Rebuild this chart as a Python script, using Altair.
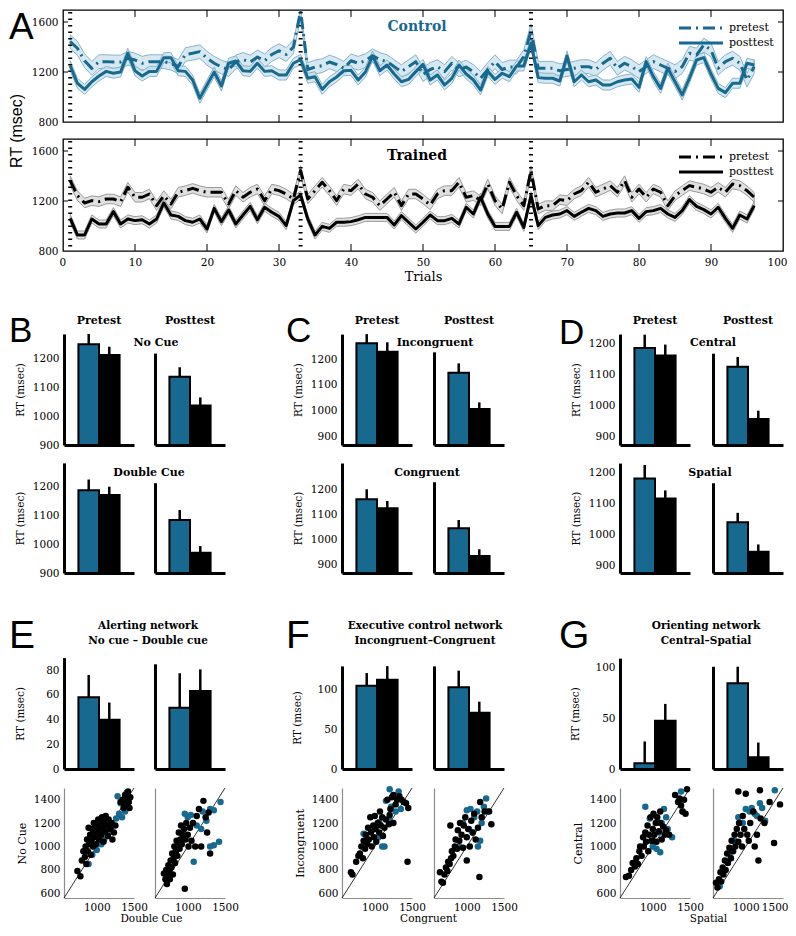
import altair as alt
import pandas as pd

SERIF = "DejaVu Serif"
SANS = "Liberation Sans"
BLUE = "#17698f"

# ---------------- Panel A data ----------------
trials = list(range(1, 97))
control_pretest = [1443, 1390, 1290, 1229, 1283, 1283, 1280, 1280, 1310, 1296,
                   1270, 1283, 1283, 1283, 1270, 1243, 1340, 1350, 1363, 1310,
                   1270, 1240, 1220, 1280, 1300, 1280, 1320, 1290, 1340, 1370,
                   1340, 1400, 1690, 1220, 1240, 1250, 1280, 1260, 1230, 1290,
                   1270, 1290, 1330, 1300, 1283, 1243, 1203, 1243, 1283, 1180,
                   1220, 1243, 1203, 1270, 1216, 1240, 1203, 1150, 1220, 1283,
                   1220, 1240, 1240, 1323, 1530, 1230, 1230, 1230, 1210, 1220,
                   1230, 1243, 1243, 1220, 1270, 1310, 1230, 1270, 1243, 1203,
                   1243, 1283, 1256, 1230, 1203, 1243, 1350, 1336, 1416, 1376,
                   1230, 1283, 1310, 1270, 1136, 1243]
control_posttest = [1250, 1110, 1061, 1122, 1168, 1205, 1190, 1200, 1350, 1210,
                    1168, 1205, 1205, 1315, 1315, 1210, 1205, 1136, 990, 1096,
                    1200, 1088, 1270, 1288, 1210, 1205, 1270, 1205, 1210, 1176,
                    1176, 1270, 1300, 1150, 1162, 1061, 1122, 1160, 1210, 1213,
                    1136, 1200, 1328, 1210, 1256, 1184, 1122, 1141, 1203, 1261,
                    1136, 1176, 1096, 1149, 1256, 1184, 1136, 1056, 1205, 1141,
                    1190, 1163, 1248, 1248, 1429, 1155, 1150, 1150, 1128, 1328,
                    1122, 1176, 1122, 1136, 1096, 1096, 1122, 1136, 1144, 1077,
                    1283, 1163, 1069, 1230, 1122, 1016, 1150, 1296, 1315, 1184,
                    1069, 1035, 1110, 1110, 1270, 1256]
trained_pretest = [1363, 1243, 1184, 1203, 1195, 1216, 1216, 1195, 1310, 1230,
                   1230, 1256, 1163, 1243, 1176, 1270, 1283, 1301, 1283, 1270,
                   1270, 1270, 1176, 1283, 1230, 1270, 1296, 1203, 1296, 1283,
                   1256, 1216, 1443, 1216, 1283, 1350, 1283, 1203, 1296, 1283,
                   1336, 1256, 1230, 1163, 1216, 1270, 1163, 1256, 1256, 1216,
                   1168, 1256, 1283, 1283, 1350, 1230, 1243, 1203, 1336, 1203,
                   1136, 1350, 1243, 1163, 1443, 1136, 1163, 1163, 1211, 1203,
                   1256, 1283, 1350, 1270, 1296, 1323, 1270, 1363, 1230, 1296,
                   1230, 1296, 1270, 1163, 1243, 1283, 1323, 1310, 1296, 1270,
                   1310, 1270, 1336, 1323, 1283, 1230]
trained_posttest = [1061, 928, 928, 1056, 1016, 1016, 1115, 1016, 1056, 1043,
                    1050, 1016, 1056, 1184, 1088, 1077, 1043, 1030, 1056, 976,
                    1141, 1035, 1128, 1016, 1088, 1157, 1050, 1150, 1110, 1077,
                    1003, 1203, 1248, 1056, 928, 997, 981, 1030, 1030, 1035,
                    1050, 1069, 1069, 1069, 1069, 1008, 1083, 1030, 976, 1030,
                    1088, 1043, 1043, 1061, 1016, 1150, 1096, 1230, 1096, 997,
                    997, 997, 1110, 989, 1243, 1003, 1069, 1088, 1096, 1123,
                    1077, 1110, 1141, 1123, 1077, 1096, 1104, 1104, 1123, 1061,
                    1115, 1123, 1141, 1096, 1069, 1123, 1211, 1157, 1131, 1096,
                    1150, 1061, 981, 1088, 1056, 1163]
control_pretest_sem = 55
control_posttest_sem = 40
trained_pretest_sem = 38
trained_posttest_sem = 32
block_start_trials = [1, 33, 65]
trial_ticks = [0, 10, 20, 30, 40, 50, 60, 70, 80, 90, 100]
rt_ticks = [800, 1200, 1600]

# ---------------- Panels B-G bar data (Control, Trained) ----------------
groups = ["Control", "Trained"]
nocue_pre, nocue_pre_err = [1247, 1210], [36, 29]
nocue_post, nocue_post_err = [1135, 1036], [33, 28]
double_pre, double_pre_err = [1189, 1172], [37, 29]
double_post, double_post_err = [1085, 971], [35, 23]
incong_pre, incong_pre_err = [1261, 1228], [36, 37]
incong_post, incong_post_err = [1146, 1005], [37, 26]
cong_pre, cong_pre_err = [1159, 1123], [40, 29]
cong_post, cong_post_err = [1043, 932], [33, 27]
central_pre, central_pre_err = [1185, 1161], [43, 35]
central_post, central_post_err = [1124, 955], [32, 27]
spatial_pre, spatial_pre_err = [1182, 1117], [44, 26]
spatial_post, spatial_post_err = [1039, 943], [31, 24]
alert_pre, alert_pre_err = [58, 39.7], [18, 14]
alert_post, alert_post_err = [49.4, 63], [28, 17.5]
exec_pre, exec_pre_err = [105, 112.7], [16, 17]
exec_post, exec_post_err = [103, 70.9], [21, 14]
orient_pre, orient_pre_err = [5.6, 47.5], [21.5, 16.5]
orient_post, orient_post_err = [84.3, 11.5], [16.3, 14.5]

# ---------------- Scatter data (x, y) ----------------
e_pre_control = [(890, 850), (940, 930), (1000, 970), (1060, 1020), (1100, 1060), (1150, 1120),
                 (1200, 1170), (1260, 1240), (1300, 1280), (1340, 1250), (1280, 1430), (1320, 1370),
                 (1400, 1460), (1380, 1300), (960, 1100)]
e_pre_trained = [(740, 790), (780, 745), (800, 880), (820, 960), (840, 910), (850, 1000), (860, 850),
                 (870, 1060), (880, 960), (890, 1160), (900, 1020), (910, 1100), (920, 930), (930, 1050),
                 (940, 1150), (950, 1000), (960, 1200), (970, 1080), (980, 1130), (990, 1020), (1000, 1180),
                 (1010, 1100), (1020, 1230), (1030, 1060), (1040, 1150), (1050, 1200), (1060, 1100),
                 (1070, 1250), (1080, 1170), (1090, 1040), (1100, 1210), (1110, 1130), (1120, 1260),
                 (1140, 1180), (1150, 1090), (1160, 1230), (1180, 1150), (1200, 1200), (1210, 1060),
                 (1230, 1120), (1250, 1180), (1320, 1380), (1350, 1400), (1360, 1330), (1380, 1440),
                 (1390, 1360), (1400, 1410), (1420, 1470), (1430, 1380), (1440, 1330), (1450, 1420),
                 (1370, 1360), (1410, 1350)]
e_post_control = [(880, 1000), (960, 1280), (1000, 1250), (1040, 1270), (1080, 870), (1120, 1180),
                  (1180, 1150), (1250, 1220), (1300, 1320), (1350, 1310), (1350, 1010), (1420, 1040),
                  (1440, 1380), (1300, 1000), (1200, 1300)]
e_post_trained = [(680, 770), (700, 720), (710, 800), (720, 680), (730, 750), (740, 840), (750, 790),
                  (760, 720), (770, 880), (780, 820), (790, 940), (800, 760), (810, 900), (820, 1000),
                  (830, 860), (840, 960), (850, 1050), (860, 920), (870, 1000), (880, 1120), (890, 980),
                  (900, 1060), (910, 1180), (920, 1020), (930, 1100), (950, 1150), (960, 640), (970, 1060),
                  (980, 1200), (1000, 1100), (1010, 1000), (1030, 1160), (1050, 1050), (1070, 1200),
                  (1100, 1000), (1120, 1260), (1150, 1320), (1180, 1000), (1210, 1390), (1240, 1250),
                  (1280, 1290), (1300, 940), (1260, 1120)]
f_pre_control = [(850, 1110), (900, 1060), (960, 1140), (1000, 1150), (1050, 1080), (1100, 1000),
                 (1130, 1000), (1150, 1390), (1200, 1490), (1220, 1340), (1280, 1300), (1320, 1470),
                 (1350, 1320), (1200, 1230), (1060, 1210)]
f_pre_trained = [(680, 780), (700, 760), (750, 870), (780, 920), (800, 940), (820, 1000), (840, 900),
                 (850, 1050), (870, 980), (880, 1100), (900, 1020), (910, 1160), (920, 1060), (940, 1250),
                 (950, 1120), (960, 1000), (980, 1180), (990, 1080), (1000, 1260), (1010, 1150),
                 (1020, 1040), (1040, 1200), (1060, 1120), (1070, 1300), (1080, 1180), (1100, 1250),
                 (1110, 1090), (1130, 1160), (1150, 1230), (1170, 1400), (1190, 1190), (1210, 1320),
                 (1230, 1420), (1250, 1200), (1280, 1360), (1300, 1400), (1330, 1430), (1360, 1400),
                 (1390, 1380), (1420, 1370), (1450, 1330), (1440, 870), (1200, 1270), (1250, 1440)]
f_post_control = [(900, 1000), (950, 1200), (1000, 1310), (1050, 1320), (1080, 1120), (1100, 1250),
                  (1140, 1300), (1180, 1050), (1200, 1200), (1230, 1340), (1260, 1410), (1280, 1300),
                  (1030, 1150), (1150, 1000)]
f_post_trained = [(640, 780), (660, 700), (680, 690), (700, 760), (720, 820), (740, 790), (750, 870),
                  (770, 850), (790, 900), (800, 960), (820, 920), (840, 1000), (850, 1060), (870, 980),
                  (880, 1140), (900, 1050), (910, 1200), (930, 1100), (950, 990), (960, 1180), (980, 1250),
                  (1000, 1080), (1020, 1150), (1040, 1000), (1060, 1220), (1080, 1120), (1100, 1280),
                  (1120, 1060), (1150, 1160), (1170, 740), (1180, 1380), (1200, 1250), (1240, 1300),
                  (1300, 1300), (1330, 1190), (1000, 880), (780, 1180)]
g_pre_control = [(760, 860), (900, 1340), (960, 1240), (1000, 1000), (1050, 980), (1080, 1120),
                 (1120, 1200), (1150, 1320), (1180, 1250), (1200, 1150), (1260, 1080), (1380, 1470),
                 (1400, 1300), (1100, 950)]
g_pre_trained = [(640, 740), (680, 750), (710, 800), (730, 860), (760, 830), (780, 900), (800, 850),
                 (820, 960), (830, 1000), (850, 920), (870, 1080), (880, 1000), (900, 1120), (910, 1040),
                 (930, 1180), (940, 960), (950, 1100), (970, 1250), (980, 1050), (1000, 1150), (1010, 1280),
                 (1020, 1100), (1040, 1200), (1050, 1040), (1060, 1250), (1080, 1130), (1100, 1200),
                 (1120, 1060), (1140, 1170), (1160, 1100), (1180, 1140), (1220, 1100), (1300, 1440),
                 (1340, 1380), (1360, 1410), (1380, 1350), (1400, 1300), (1420, 1400), (1440, 1280),
                 (1460, 1490), (1100, 1300), (1000, 1050)]
g_post_control = [(650, 660), (780, 940), (850, 1050), (900, 1250), (960, 1200), (1000, 1320),
                  (1050, 1300), (1080, 1330), (1120, 1280), (1150, 1260), (1190, 1370), (1220, 1330),
                  (1260, 1220), (1390, 1480), (800, 900)]
g_post_trained = [(600, 690), (620, 650), (640, 720), (660, 780), (670, 700), (690, 820), (700, 760),
                  (720, 880), (730, 800), (750, 940), (760, 860), (780, 990), (800, 900), (810, 1050),
                  (830, 960), (850, 1100), (860, 1000), (880, 1150), (900, 1040), (910, 1200), (930, 1100),
                  (950, 1000), (960, 1260), (980, 1150), (1000, 1450), (1020, 1100), (1040, 1050),
                  (1060, 1200), (1100, 1300), (1120, 1000), (1150, 1100), (1170, 880), (1190, 1480),
                  (1200, 1240), (1250, 1200), (1320, 1380), (1380, 1030), (1460, 1360), (900, 1470)]
scatter_domain = [560, 1500]

# ---------------- layout constants (pixels) ----------------
ROW_H = [112, 112, 177, 111, 179, 112]
COL_X = [1, 92, 279, 371, 557, 650]   # left spine of each small panel
SPINE = 70
A_W = 720
ROW_W = 722


def txt(s, x, y, size, weight="normal", color="black", align="center",
        baseline="middle", font=SERIF, angle=None):
    kw = dict(font=font, fontSize=size, fontWeight=weight, color=color,
              align=align, baseline=baseline)
    if angle is not None:
        kw["angle"] = angle
    return alt.Chart(pd.DataFrame({"label": [s]})).mark_text(**kw).encode(
        text="label:N", x=alt.value(x), y=alt.value(y))


def letter(s, x, y, size):
    return txt(s, x, y, size, font=SANS, align="left", baseline="alphabetic")


def ts_panel(pre, post, pre_sem, post_sem, color, band_fill, band_edge,
             title, show_x, extra):
    H = 112
    df = pd.DataFrame({
        "trial": trials + trials,
        "rt": pre + post,
        "sem": [pre_sem] * len(trials) + [post_sem] * len(trials),
        "test": ["pretest"] * len(trials) + ["posttest"] * len(trials),
    })
    base = alt.Chart(df).transform_calculate(
        lo="datum.rt - datum.sem", hi="datum.rt + datum.sem")
    xkw = dict(values=trial_ticks, labels=show_x, ticks=False, domain=False,
               grid=False, labelFlush=True, labelFlushOffset=4, labelFont=SERIF,
               labelFontSize=10.5, labelPadding=6, labelColor="black", format="d")
    if show_x:
        xkw.update(title="Trials", titleFont=SERIF, titleFontSize=13, titleColor="black",
                   titleFontWeight="normal", titlePadding=3)
    else:
        xkw["title"] = None
    xaxis = alt.Axis(**xkw)
    yaxis = alt.Axis(values=rt_ticks, ticks=False, domain=False, grid=False, format="d",
                     labelFont=SERIF, labelFontSize=10.5, labelPadding=5,
                     labelColor="black", title=None)
    xs = alt.Scale(domain=[0, 100], nice=False, zero=False)
    ys = alt.Scale(domain=[800, 1696], nice=False, zero=False, clamp=True)
    X = alt.X("trial:Q", scale=xs, axis=xaxis)

    def Y(f):
        return alt.Y(f, scale=ys, axis=yaxis)

    layers = []
    for test in ["pretest", "posttest"]:
        layers.append(base.transform_filter(f"datum.test == '{test}'").mark_area(
            clip=True, fill=band_fill, fillOpacity=0.75, stroke=band_edge, strokeWidth=1,
            strokeJoin="round"
        ).encode(x=X, y=Y("lo:Q"), y2="hi:Q"))
    layers.append(alt.Chart(pd.DataFrame({"trial": block_start_trials})).mark_rule(
        clip=True, color="black", strokeWidth=4, strokeDash=[1.5, 5]).encode(
        x=X, y=alt.value(2), y2=alt.value(H - 2)))
    layers.append(base.transform_filter("datum.test == 'pretest'").mark_line(
        clip=True, color=color, strokeWidth=3, strokeDash=[12, 5, 2, 5], strokeJoin="round"
    ).encode(x=X, y=Y("rt:Q")))
    layers.append(base.transform_filter("datum.test == 'posttest'").mark_line(
        clip=True, color=color, strokeWidth=3, strokeJoin="round").encode(x=X, y=Y("rt:Q")))
    tick_df = pd.DataFrame({"trial": trial_ticks[1:-1]})
    layers.append(alt.Chart(tick_df).mark_rule(clip=True, color="black", strokeWidth=1).encode(
        x=X, y=alt.value(0), y2=alt.value(7)))
    layers.append(alt.Chart(tick_df).mark_rule(clip=True, color="black", strokeWidth=1).encode(
        x=X, y=alt.value(H), y2=alt.value(H - 7)))
    ytick_df = pd.DataFrame({"rt": rt_ticks[1:]})
    layers.append(alt.Chart(ytick_df).mark_rule(clip=True, color="black", strokeWidth=1).encode(
        y=Y("rt:Q"), x=alt.value(0), x2=alt.value(5)))
    layers.append(alt.Chart(ytick_df).mark_rule(clip=True, color="black", strokeWidth=1).encode(
        y=Y("rt:Q"), x=alt.value(A_W), x2=alt.value(A_W - 5)))
    layers.append(txt(title, 354, 17, 14, weight="bold", color=color))
    one = pd.DataFrame({"k": [0]})
    layers.append(alt.Chart(one).mark_rule(color=color, strokeWidth=3, strokeDash=[12, 5, 2, 5]).encode(
        x=alt.value(616), x2=alt.value(660), y=alt.value(18)))
    layers.append(alt.Chart(one).mark_rule(color=color, strokeWidth=3).encode(
        x=alt.value(616), x2=alt.value(660), y=alt.value(33)))
    layers.append(txt("pretest", 666, 18, 11, align="left"))
    layers.append(txt("posttest", 666, 33, 11, align="left"))
    layers += extra
    return alt.layer(*layers).properties(
        width=A_W, height=H, view=alt.ViewBackground(stroke="black", strokeWidth=1.3))


def bar_sub(vals, errs, lo, top, k, H, x0, yticks=None, ytitle_pad=None):
    df = pd.DataFrame({"group": groups, "rt": vals, "err": errs})
    base = alt.Chart(df).transform_calculate(top="datum.rt + datum.err")
    X = alt.X("group:N", scale=alt.Scale(domain=groups, range=[x0, x0 + SPINE],
                                          paddingInner=0, paddingOuter=0.7),
              axis=alt.Axis(orient="bottom", title=None, labels=False, ticks=False, grid=False,
                            domainColor="black", domainWidth=3, zindex=1))
    ykw = dict(orient="left", offset=-x0, ticks=False, grid=False, domainColor="black",
               domainWidth=3, zindex=1, labelFont=SERIF, labelFontSize=10.5,
               labelPadding=5, labelColor="black", format="d")
    if yticks is not None:
        ykw.update(values=yticks, labels=True, title="RT (msec)", titleFont=SERIF,
                   titleFontSize=10.5, titleFontWeight="normal", titleColor="black",
                   titlePadding=ytitle_pad)
    else:
        ykw.update(labels=False, title=None)
    ys = alt.Scale(domain=[lo, top], range=[H, H - (top - lo) * k], nice=False, zero=False)
    Y = alt.Y("rt:Q", scale=ys, axis=alt.Axis(**ykw))
    bars = base.mark_bar(stroke="black", strokeWidth=2).encode(
        x=X, y=Y, y2=alt.datum(lo),
        color=alt.Color("group:N", scale=alt.Scale(domain=groups, range=[BLUE, "black"]), legend=None))
    err = base.mark_rule(color="black", strokeWidth=2.5).encode(x=X, y=Y, y2="top:Q")
    return alt.layer(bars, err)


def scatter_sub(ctrl, trained, H, x0, ytitle=None, xtitle=None, title_x=None, flush=False):
    df = pd.DataFrame({
        "sx": [p[0] for p in ctrl] + [p[0] for p in trained],
        "sy": [p[1] for p in ctrl] + [p[1] for p in trained],
        "group": ["Control"] * len(ctrl) + ["Trained"] * len(trained),
    })
    xkw = dict(orient="bottom", values=[1000, 1500], ticks=False, grid=False,
               domainColor="#8c8c8c", domainWidth=1.2, labelFont=SERIF, labelFontSize=10.5,
               labelPadding=4, labelFlush=flush, labelColor="black", format="d")
    if flush:
        xkw["labelFlushOffset"] = 5
    if xtitle:
        xkw.update(title=xtitle, titleFont=SERIF, titleFontSize=10.5, titleColor="black",
                   titleFontWeight="normal", titleX=title_x, titlePadding=1)
    else:
        xkw["title"] = None
    ykw = dict(orient="left", offset=-x0, values=[600, 800, 1000, 1200, 1400], ticks=False,
               grid=False, domainColor="#8c8c8c", domainWidth=1.2, labelFont=SERIF,
               labelFontSize=10.5, labelPadding=4, labelColor="black", format="d")
    if ytitle:
        ykw.update(labels=True, title=ytitle, titleFont=SERIF, titleFontSize=11,
                   titleColor="black", titleFontWeight="normal", titlePadding=6)
    else:
        ykw.update(labels=False, title=None)
    X = alt.X("sx:Q", scale=alt.Scale(domain=scatter_domain, range=[x0, x0 + SPINE],
                                       nice=False, zero=False), axis=alt.Axis(**xkw))
    Y = alt.Y("sy:Q", scale=alt.Scale(domain=scatter_domain, range=[H, H - 110],
                                       nice=False, zero=False), axis=alt.Axis(**ykw))
    diag = alt.Chart(pd.DataFrame({"sx": scatter_domain, "sy": scatter_domain})).mark_line(
        color="black", strokeWidth=0.8).encode(x=X, y=Y)
    pts = alt.Chart(df).mark_circle(size=42, opacity=1).encode(
        x=X, y=Y,
        color=alt.Color("group:N", scale=alt.Scale(domain=groups, range=[BLUE, "black"]), legend=None))
    return alt.layer(diag, pts)


def row(subs, texts, H):
    return alt.layer(*subs, *texts).resolve_scale(
        x="independent", y="independent").properties(width=ROW_W, height=H)


# ---------------- build panels ----------------
A1 = ts_panel(control_pretest, control_posttest, control_pretest_sem, control_posttest_sem,
              BLUE, "#c9e0ec", "#86b4cb", "Control", False,
              [letter("A", -54, 29, 37),
               txt("RT (msec)", -46, 121, 16, font=SANS, angle=270)])
A2 = ts_panel(trained_pretest, trained_posttest, trained_pretest_sem, trained_posttest_sem,
              "black", "#d6d6d6", "#9a9a9a", "Trained", True, [])

H3, H4, H5, H6 = ROW_H[2], ROW_H[3], ROW_H[4], ROW_H[5]
cx = COL_X
yt = [900, 1000, 1100, 1200]

row3 = row([
    bar_sub(nocue_pre, nocue_pre_err, 900, 1283, 0.29, H3, cx[0], yt, 7),
    bar_sub(nocue_post, nocue_post_err, 900, 1217, 0.29, H3, cx[1]),
    bar_sub(incong_pre, incong_pre_err, 865, 1297, 0.2567, H3, cx[2], yt, 7),
    bar_sub(incong_post, incong_post_err, 865, 1228, 0.2567, H3, cx[3]),
    bar_sub(central_pre, central_pre_err, 871, 1230, 0.309, H3, cx[4], yt, 7),
    bar_sub(central_post, central_post_err, 871, 1168, 0.309, H3, cx[5]),
], [
    letter("B", -54, 74, 35), letter("C", 223, 74, 35), letter("D", 496, 76, 35),
    txt("Pretest", cx[0] + 35, 53, 11, weight="bold"),
    txt("Posttest", cx[1] + 35, 53, 11, weight="bold"),
    txt("Pretest", cx[2] + 35, 53, 11, weight="bold"),
    txt("Posttest", cx[3] + 35, 53, 11, weight="bold"),
    txt("Pretest", cx[4] + 35, 53, 11, weight="bold"),
    txt("Posttest", cx[5] + 35, 53, 11, weight="bold"),
    txt("No Cue", 93, 75, 11, weight="bold"),
    txt("Incongruent", 372, 75, 11, weight="bold"),
    txt("Central", 650, 75, 11, weight="bold"),
], H3)

row4 = row([
    bar_sub(double_pre, double_pre_err, 900, 1284, 0.2867, H4, cx[0], yt, 7),
    bar_sub(double_post, double_post_err, 900, 1215, 0.2867, H4, cx[1]),
    bar_sub(cong_pre, cong_pre_err, 864, 1304, 0.25, H4, cx[2], yt, 7),
    bar_sub(cong_post, cong_post_err, 864, 1229, 0.25, H4, cx[3]),
    bar_sub(spatial_pre, spatial_pre_err, 874, 1232, 0.307, H4, cx[4], yt, 7),
    bar_sub(spatial_post, spatial_post_err, 874, 1168, 0.307, H4, cx[5]),
], [
    txt("Double Cue", 86, 11, 11, weight="bold"),
    txt("Congruent", 364, 11, 11, weight="bold"),
    txt("Spatial", 647, 11, 11, weight="bold"),
], H4)

row5 = row([
    bar_sub(alert_pre, alert_pre_err, 0, 90, 1.2375, H5, cx[0], [0, 20, 40, 60, 80], 20),
    bar_sub(alert_post, alert_post_err, 0, 85, 1.2375, H5, cx[1]),
    bar_sub(exec_pre, exec_pre_err, 0, 130, 0.793, H5, cx[2], [0, 50, 100], 14),
    bar_sub(exec_post, exec_post_err, 0, 130, 0.793, H5, cx[3]),
    bar_sub(orient_pre, orient_pre_err, 0, 109, 1.017, H5, cx[4], [0, 50, 100], 14),
    bar_sub(orient_post, orient_post_err, 0, 101, 1.017, H5, cx[5]),
], [
    letter("E", -54, 58, 39), letter("F", 223, 58, 39), letter("G", 496, 58, 39),
    txt("Alerting network", 85, 36, 10.5, weight="bold"),
    txt("No cue \u2013 Double cue", 85, 51, 10.5, weight="bold"),
    txt("Executive control network", 362, 36, 10.5, weight="bold"),
    txt("Incongruent\u2013Congruent", 362, 51, 10.5, weight="bold"),
    txt("Orienting network", 643, 36, 10.5, weight="bold"),
    txt("Central\u2013Spatial", 643, 51, 10.5, weight="bold"),
], H5)

row6 = row([
    scatter_sub(e_pre_control, e_pre_trained, H6, cx[0], "No Cue", "Double Cue", 88),
    scatter_sub(e_post_control, e_post_trained, H6, cx[1]),
    scatter_sub(f_pre_control, f_pre_trained, H6, cx[2], "Incongruent", "Congruent", 365),
    scatter_sub(f_post_control, f_post_trained, H6, cx[3]),
    scatter_sub(g_pre_control, g_pre_trained, H6, cx[4], "Central", "Spatial", 645),
    scatter_sub(g_post_control, g_post_trained, H6, cx[5], flush=True),
], [], H6)

chart = alt.vconcat(
    A1, A2, row3, row4, row5, row6, spacing=17, bounds="flush"
).properties(padding=0).configure_view(stroke=None)

chart.save("out.html", embed_options={"renderer": "svg", "actions": False})
